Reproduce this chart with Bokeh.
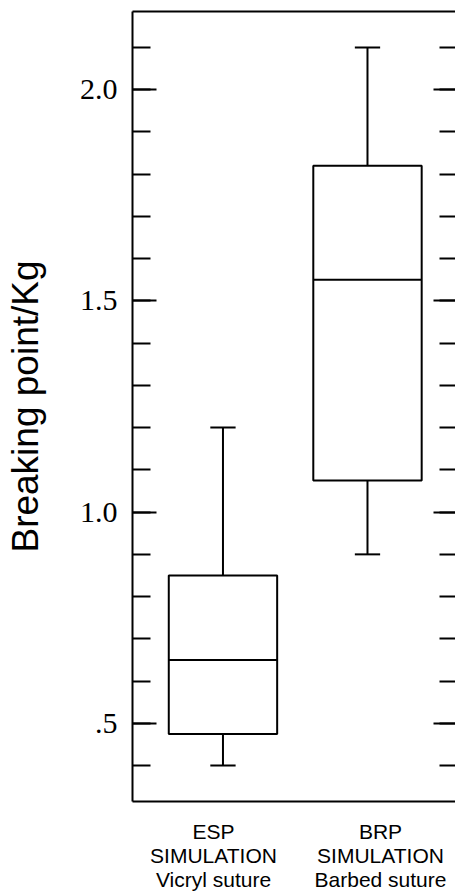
from bokeh.plotting import figure
from bokeh.models import Range1d, LinearAxis, FixedTicker
from bokeh.embed import file_html
from bokeh.resources import INLINE

# ---- data ----
categories = ["ESP\nSIMULATION\nVicryl suture", "BRP\nSIMULATION\nBarbed suture"]
positions = [1, 2]
whisker_low = [0.40, 0.90]
q1 = [0.475, 1.075]
median = [0.65, 1.55]
q3 = [0.85, 1.82]
whisker_high = [1.20, 2.10]

y_major_ticks = [0.5, 1.0, 1.5, 2.0]
y_major_labels = [".5", "1.0", "1.5", "2.0"]
y_minor_ticks = [0.4, 0.5, 0.6, 0.7, 0.8, 0.9, 1.0, 1.1, 1.2, 1.3, 1.4, 1.5,
                 1.6, 1.7, 1.8, 1.9, 2.0, 2.1]

BOX_W = 0.75
CAP_W = 0.175
LW = 2

p = figure(width=455, height=893, output_backend="svg", toolbar_location=None,
           x_range=Range1d(0.374, 2.609), y_range=Range1d(0.315, 2.185),
           x_axis_location=None, y_axis_location=None,
           min_border_left=132, min_border_top=11, min_border_right=0,
           min_border_bottom=90)
p.outline_line_color = None
p.grid.visible = False
p.background_fill_color = "white"
p.border_fill_color = "white"

# label range for the category axis
p.extra_x_ranges = {"lab": Range1d(0.515, 2.449)}

# ---- boxes ----
xs = positions
p.segment(x0=xs, y0=q3, x1=xs, y1=whisker_high, line_color="black", line_width=LW)
p.segment(x0=xs, y0=whisker_low, x1=xs, y1=q1, line_color="black", line_width=LW)
p.segment(x0=[x - CAP_W / 2 for x in xs], y0=whisker_high,
          x1=[x + CAP_W / 2 for x in xs], y1=whisker_high, line_color="black", line_width=LW)
p.segment(x0=[x - CAP_W / 2 for x in xs], y0=whisker_low,
          x1=[x + CAP_W / 2 for x in xs], y1=whisker_low, line_color="black", line_width=LW)
p.vbar(x=xs, width=BOX_W, bottom=q1, top=q3, fill_color="white",
       line_color="black", line_width=LW)
p.segment(x0=[x - BOX_W / 2 for x in xs], y0=median,
          x1=[x + BOX_W / 2 for x in xs], y1=median, line_color="black", line_width=LW)

# ---- left axis ----
ly = LinearAxis(ticker=FixedTicker(ticks=y_major_ticks, minor_ticks=y_minor_ticks))
ly.major_label_overrides = {t: l for t, l in zip(y_major_ticks, y_major_labels)}
ly.axis_label = "Breaking point/Kg"
ly.axis_label_text_font = "Liberation Sans"
ly.axis_label_text_font_size = "37px"
ly.axis_label_text_font_style = "normal"
ly.axis_label_text_color = "black"
ly.axis_label_standoff = 31
ly.major_label_text_font = "Liberation Serif"
ly.major_label_text_font_size = "30px"
ly.major_label_text_color = "black"
ly.major_label_standoff = 15
ly.major_tick_in = 24
ly.major_tick_out = 0
ly.minor_tick_in = 18
ly.minor_tick_out = 0
ly.major_tick_line_width = LW
ly.minor_tick_line_width = LW
ly.axis_line_width = LW
ly.axis_line_color = "black"
ly.major_tick_line_color = "black"
ly.minor_tick_line_color = "black"
p.add_layout(ly, "left")

# ---- right axis (ticks only) ----
ry = LinearAxis(ticker=FixedTicker(ticks=y_major_ticks, minor_ticks=y_minor_ticks))
ry.major_label_text_font_size = "0px"
ry.major_label_standoff = 0
ry.major_label_overrides = {t: "" for t in y_major_ticks}
ry.major_tick_in = 22
ry.major_tick_out = 0
ry.minor_tick_in = 16
ry.minor_tick_out = 0
ry.major_tick_line_width = LW
ry.minor_tick_line_width = LW
ry.axis_line_color = None
ry.major_tick_line_color = "black"
ry.minor_tick_line_color = "black"
p.add_layout(ry, "right")

# ---- top axis (line only) ----
tx = LinearAxis(ticker=FixedTicker(ticks=[]))
tx.major_label_text_font_size = "0px"
tx.major_label_standoff = 0
tx.major_tick_in = 0
tx.major_tick_out = 0
tx.minor_tick_in = 0
tx.minor_tick_out = 0
tx.axis_line_width = LW
tx.axis_line_color = "black"
p.add_layout(tx, "above")

# ---- bottom axis with category labels ----
bx = LinearAxis(x_range_name="lab", ticker=FixedTicker(ticks=positions, minor_ticks=[]))
bx.major_label_overrides = {x: c for x, c in zip(positions, categories)}
bx.major_label_text_font = "Liberation Sans"
bx.major_label_text_font_size = "21px"
bx.major_label_text_color = "black"
bx.major_label_text_line_height = 1.05
bx.major_label_standoff = 18
bx.major_tick_in = 0
bx.major_tick_out = 0
bx.minor_tick_in = 0
bx.minor_tick_out = 0
bx.axis_line_width = LW
bx.axis_line_color = "black"
p.add_layout(bx, "below")

open("out.html", "w").write(file_html(p, INLINE))
